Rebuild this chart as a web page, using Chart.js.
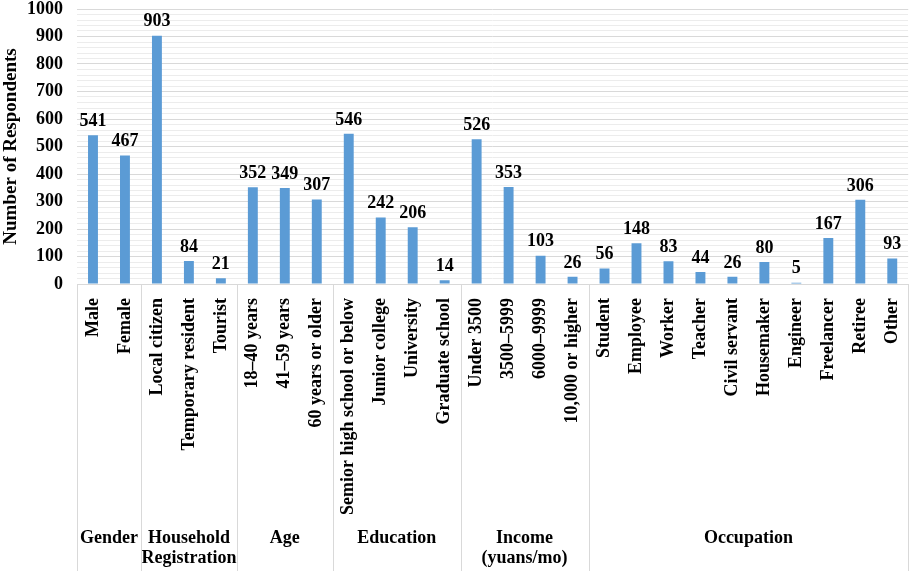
<!DOCTYPE html>
<html>
<head>
<meta charset="utf-8">
<script src="https://cdn.jsdelivr.net/npm/chart.js@4.4.1/dist/chart.umd.min.js"></script>
<style>
  body { margin: 0; background: #fff; }
  #chart { display: block; }
</style>
</head>
<body>
<canvas id="chart" width="920" height="572"></canvas>
<script>
const categories = ['Male', 'Female', 'Local citizen', 'Temporary resident', 'Tourist',
    '18–40 years', '41–59 years', '60 years or older',
    'Semior high school or below', 'Junior college', 'University', 'Graduate school',
    'Under 3500', '3500–5999', '6000–9999', '10,000 or higher',
    'Student', 'Employee', 'Worker', 'Teacher', 'Civil servant', 'Housemaker',
    'Engineer', 'Freelancer', 'Retiree', 'Other'];
const respondents = [541, 467, 903, 84, 21, 352, 349, 307, 546, 242, 206, 14,
    526, 353, 103, 26, 56, 148, 83, 44, 26, 80, 5, 167, 306, 93];
const groupNames = [['Gender'], ['Household', 'Registration'], ['Age'], ['Education'],
    ['Income', '(yuans/mo)'], ['Occupation']];
const groupSizes = [2, 3, 3, 4, 4, 10];
const yMin = 0;
const yMax = 1000;
const yStep = 100;
const yMinorStep = 20;

const serif = '"Liberation Serif", "Times New Roman", serif';
const lineColor = '#d9d9d9';

// value labels on top of bars
const valueLabels = {
    id: 'valueLabels',
    afterDatasetsDraw(chart) {
        const ctx = chart.ctx;
        const meta = chart.getDatasetMeta(0);
        ctx.save();
        ctx.font = 'bold 18px ' + serif;
        ctx.fillStyle = '#000';
        ctx.textAlign = 'center';
        ctx.textBaseline = 'bottom';
        meta.data.forEach((bar, i) => {
            ctx.fillText(String(respondents[i]), bar.x, bar.y - 5);
        });
        ctx.restore();
    }
};

// group separators and group names under the category labels
const groupAxis = {
    id: 'groupAxis',
    afterDraw(chart) {
        const ctx = chart.ctx;
        const x = chart.scales.x;
        const area = chart.chartArea;
        const half = (x.getPixelForValue(1) - x.getPixelForValue(0)) / 2;
        const bottom = chart.height - 1;
        ctx.save();
        ctx.strokeStyle = lineColor;
        ctx.lineWidth = 1;
        ctx.font = 'bold 18px ' + serif;
        ctx.fillStyle = '#000';
        ctx.textAlign = 'center';
        ctx.textBaseline = 'middle';
        let start = 0;
        const edges = [x.getPixelForValue(0) - half];
        groupSizes.forEach((size, g) => {
            const end = start + size - 1;
            const left = x.getPixelForValue(start) - half;
            const right = x.getPixelForValue(end) + half;
            edges.push(right);
            const cx = (left + right) / 2;
            groupNames[g].forEach((line, k) => {
                ctx.fillText(line, cx, 538 + k * 20);
            });
            start = end + 1;
        });
        edges.forEach(px => {
            const p = Math.round(px) + 0.5;
            ctx.beginPath();
            ctx.moveTo(p, area.bottom);
            ctx.lineTo(p, bottom);
            ctx.stroke();
        });
        ctx.restore();
    }
};

new Chart(document.getElementById('chart'), {
    type: 'bar',
    data: {
        labels: categories,
        datasets: [{
            label: 'Number of Respondents',
            data: respondents,
            backgroundColor: '#5b9bd5',
            barPercentage: 0.31,
            categoryPercentage: 1
        }]
    },
    options: {
        responsive: false,
        animation: false,
        layout: { padding: 0 },
        plugins: {
            legend: { display: false },
            tooltip: { enabled: false }
        },
        scales: {
            x: {
                grid: { display: false },
                border: { display: true, color: lineColor },
                ticks: {
                    autoSkip: false,
                    minRotation: 90,
                    maxRotation: 90,
                    padding: 6,
                    color: '#000',
                    font: { family: serif, size: 18, weight: 'bold' }
                },
                afterFit(scale) { scale.height = 288; }
            },
            y: {
                min: yMin,
                max: yMax,
                ticks: {
                    stepSize: yStep,
                    padding: 14,
                    color: '#000',
                    font: { family: serif, size: 18, weight: 'bold' },
                    callback: v => String(v)
                },
                grid: { color: lineColor, drawTicks: false },
                border: { display: false },
                title: {
                    display: true,
                    text: 'Number of Respondents',
                    color: '#000',
                    padding: { top: 0, bottom: 1 },
                    font: { family: serif, size: 19, weight: 'bold' }
                },
                afterFit(scale) { scale.width = 77; scale.paddingTop = 9; }
            },
            yMinor: {
                position: 'right',
                min: yMin,
                max: yMax,
                ticks: { display: false, stepSize: yMinorStep },
                grid: {
                    drawTicks: false,
                    color: ctx => ctx.tick.value % yStep === 0 ? 'rgba(0,0,0,0)' : '#ececec'
                },
                border: { display: false },
                afterFit(scale) { scale.width = 7; scale.paddingTop = 9; }
            }
        }
    },
    plugins: [valueLabels, groupAxis]
});
</script>
</body>
</html>
